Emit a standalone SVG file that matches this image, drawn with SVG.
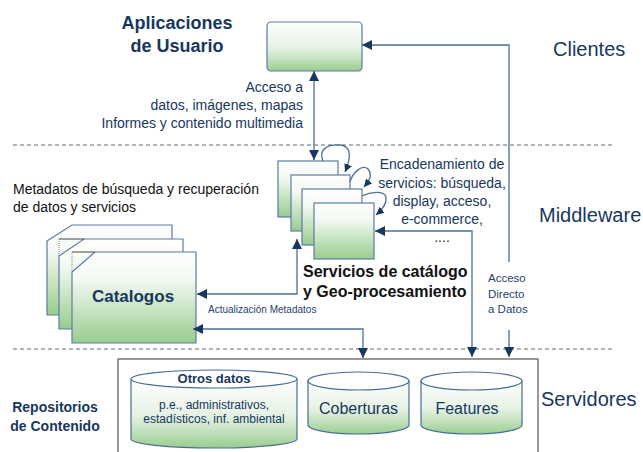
<svg xmlns="http://www.w3.org/2000/svg" width="643" height="452" viewBox="0 0 643 452">
<defs>
<linearGradient id="gr" x1="0" y1="0" x2="0" y2="1">
<stop offset="0" stop-color="#ffffff"/>
<stop offset="0.3" stop-color="#f3f9f2"/>
<stop offset="1" stop-color="#98cc8f"/>
</linearGradient>
<linearGradient id="grc" x1="0" y1="0" x2="0" y2="1">
<stop offset="0" stop-color="#ffffff"/>
<stop offset="0.55" stop-color="#e4f1e2"/>
<stop offset="1" stop-color="#9acd91"/>
</linearGradient>
<marker id="ah" viewBox="0 0 10 10" refX="10" refY="5" markerWidth="10" markerHeight="10" markerUnits="userSpaceOnUse" orient="auto-start-reverse">
<path d="M0 0 L10 5 L0 10 Z" fill="#17375e"/>
</marker>
<marker id="ahs" viewBox="0 0 10 10" refX="10" refY="5" markerWidth="8" markerHeight="8" markerUnits="userSpaceOnUse" orient="auto-start-reverse">
<path d="M0 0 L10 5 L0 10 Z" fill="#17375e"/>
</marker>
</defs>
<style>
.t{font-family:"Liberation Sans",Arial,sans-serif;fill:#17375e}
.b{font-weight:bold}
.box{fill:url(#gr);stroke:#5a7ca3;stroke-width:1.2}
.cyl{fill:url(#grc);stroke:#4a6d94;stroke-width:1.2}
.top{fill:#ffffff;stroke:#4a6d94;stroke-width:1.2}
.dash{stroke:#666;stroke-width:1;stroke-dasharray:4 3;fill:none}
.c{fill:none;stroke:#4e6f96;stroke-width:1.3}
</style>
<rect width="643" height="452" fill="#ffffff"/>

<g id="separators">
<line class="dash" x1="13" y1="145" x2="612" y2="145"/>
<line class="dash" x1="13" y1="349" x2="612" y2="349" stroke="#888"/>
</g>

<g id="layer-labels">
<text class="t" x="553" y="56" font-size="20">Clientes</text>
<text class="t" x="539" y="222" font-size="20">Middleware</text>
<text class="t" x="541" y="406" font-size="20">Servidores</text>
</g>

<g id="title">
<text class="t b" x="177" y="29" font-size="18" text-anchor="middle">Aplicaciones</text>
<text class="t b" x="177" y="52" font-size="18" text-anchor="middle">de Usuario</text>
</g>

<g id="client-app">
<rect x="267" y="22" width="95" height="49" rx="4" fill="url(#grc)" stroke="#5a7ca3" stroke-width="1.2"/>
</g>

<g id="acceso-label">
<text class="t" x="303" y="92" font-size="14" text-anchor="end">Acceso a</text>
<text class="t" x="303" y="110" font-size="14" text-anchor="end">datos, imágenes, mapas</text>
<text class="t" x="303" y="128" font-size="14" text-anchor="end">Informes y contenido multimedia</text>
</g>

<g id="servicios">
<rect class="box" x="278" y="161" width="60" height="56"/>
<rect class="box" x="291" y="175" width="59" height="56"/>
<rect class="box" x="302" y="189" width="60" height="56"/>
<rect class="box" x="314" y="203" width="60" height="56"/>
<text x="303" y="277" font-size="16" class="b" font-family="Liberation Sans, Arial, sans-serif" fill="#111">Servicios de catálogo</text>
<text x="303" y="297" font-size="16" class="b" font-family="Liberation Sans, Arial, sans-serif" fill="#111">y Geo-procesamiento</text>
</g>

<g id="encadenamiento">
<text class="t" x="442" y="169" font-size="14" text-anchor="middle">Encadenamiento de</text>
<text class="t" x="442" y="188" font-size="14" text-anchor="middle">servicios: búsqueda,</text>
<text class="t" x="442" y="206" font-size="14" text-anchor="middle">display, acceso,</text>
<text class="t" x="442" y="224" font-size="14" text-anchor="middle">e-commerce,</text>
<text class="t" x="442" y="242" font-size="14" text-anchor="middle">....</text>
</g>

<g id="metadatos-label">
<text x="13" y="194" font-size="14" font-family="Liberation Sans, Arial, sans-serif" fill="#111">Metadatos de búsqueda y recuperación</text>
<text x="13" y="212" font-size="14" font-family="Liberation Sans, Arial, sans-serif" fill="#111">de datos y servicios</text>
</g>

<g id="catalogos">
<path class="box" d="M47 241 L72 225 H172 V315 H47 Z"/>
<path class="box" d="M59 256 L84 239 H183 V329 H59 Z"/>
<line x1="59" y1="239" x2="84" y2="239" stroke="#444" stroke-width="1"/>
<line x1="59" y1="239" x2="59" y2="256" stroke="#888" stroke-width="1" stroke-dasharray="1 1"/>
<path class="box" d="M72 272 L95 252 H196 V343 H72 Z"/>
<line x1="72" y1="252" x2="95" y2="252" stroke="#444" stroke-width="1"/>
<line x1="72" y1="252" x2="72" y2="272" stroke="#888" stroke-width="1" stroke-dasharray="1 1"/>
<text class="t b" x="133" y="302" font-size="17" text-anchor="middle">Catalogos</text>
</g>

<g id="repositorios-label">
<text class="t b" x="55" y="412" font-size="14" text-anchor="middle">Repositorios</text>
<text class="t b" x="55" y="431" font-size="14" text-anchor="middle">de Contenido</text>
</g>

<g id="servidores">
<rect x="118" y="359" width="420" height="100" fill="#ffffff" stroke="#555" stroke-width="1.2"/>
</g>

<g id="otros-datos">
<path class="cyl" d="M131 379 V439 A83 9 0 0 0 297 439 V379 Z"/>
<ellipse class="top" cx="214" cy="379" rx="83" ry="9"/>
<text class="t b" x="214" y="383" font-size="13" text-anchor="middle">Otros datos</text>
<text class="t" x="214" y="409" font-size="12" text-anchor="middle">p.e., administrativos,</text>
<text class="t" x="214" y="423" font-size="12" text-anchor="middle">estadísticos, inf. ambiental</text>
</g>

<g id="coberturas">
<path class="cyl" d="M308 381 V425 A50.5 9 0 0 0 409 425 V381 Z"/>
<ellipse class="top" cx="358.5" cy="381" rx="50.5" ry="9"/>
<text class="t" x="358.5" y="414" font-size="16" text-anchor="middle">Coberturas</text>
</g>

<g id="features">
<path class="cyl" d="M421 381 V425 A50.5 9 0 0 0 522 425 V381 Z"/>
<ellipse class="top" cx="471.5" cy="381" rx="50.5" ry="9"/>
<text class="t" x="467" y="414" font-size="16" text-anchor="middle">Features</text>
</g>

<g id="connectors">
<path class="c" d="M314 160 V71" marker-start="url(#ah)" marker-end="url(#ah)"/>
<path class="c" d="M509 262 V45 H362" marker-end="url(#ah)"/>
<path class="c" d="M509 330 V357" marker-end="url(#ah)"/>
<path class="c" d="M375 231 H472 V357" marker-start="url(#ah)" marker-end="url(#ah)"/>
<path class="c" d="M297 239 V294 H197" marker-start="url(#ah)" marker-end="url(#ah)"/>
<path class="c" d="M193 329 H363 V358" marker-start="url(#ah)" marker-end="url(#ah)"/>
<path class="c" d="M323 161 C318 149 328 144 340 145 C352 146 351 158 345 172" marker-end="url(#ahs)"/>
<path class="c" d="M350 182 C353 172 362 164 368 169 C373 175 369 181 364 187" marker-end="url(#ahs)"/>
<path class="c" d="M362 196 C370 192 384 190 386 197 C387 204 382 210 376 215" marker-end="url(#ahs)"/>
<text x="488" y="282" font-size="11.5" font-family="Liberation Sans, Arial, sans-serif" fill="#1f3f6e">Acceso</text>
<text x="488" y="298" font-size="11.5" font-family="Liberation Sans, Arial, sans-serif" fill="#1f3f6e">Directo</text>
<text x="488" y="313" font-size="11.5" font-family="Liberation Sans, Arial, sans-serif" fill="#1f3f6e">a Datos</text>
<text x="208" y="313" font-size="10" font-family="Liberation Sans, Arial, sans-serif" fill="#1f3f6e">Actualización Metadatos</text>
</g>
</svg>
